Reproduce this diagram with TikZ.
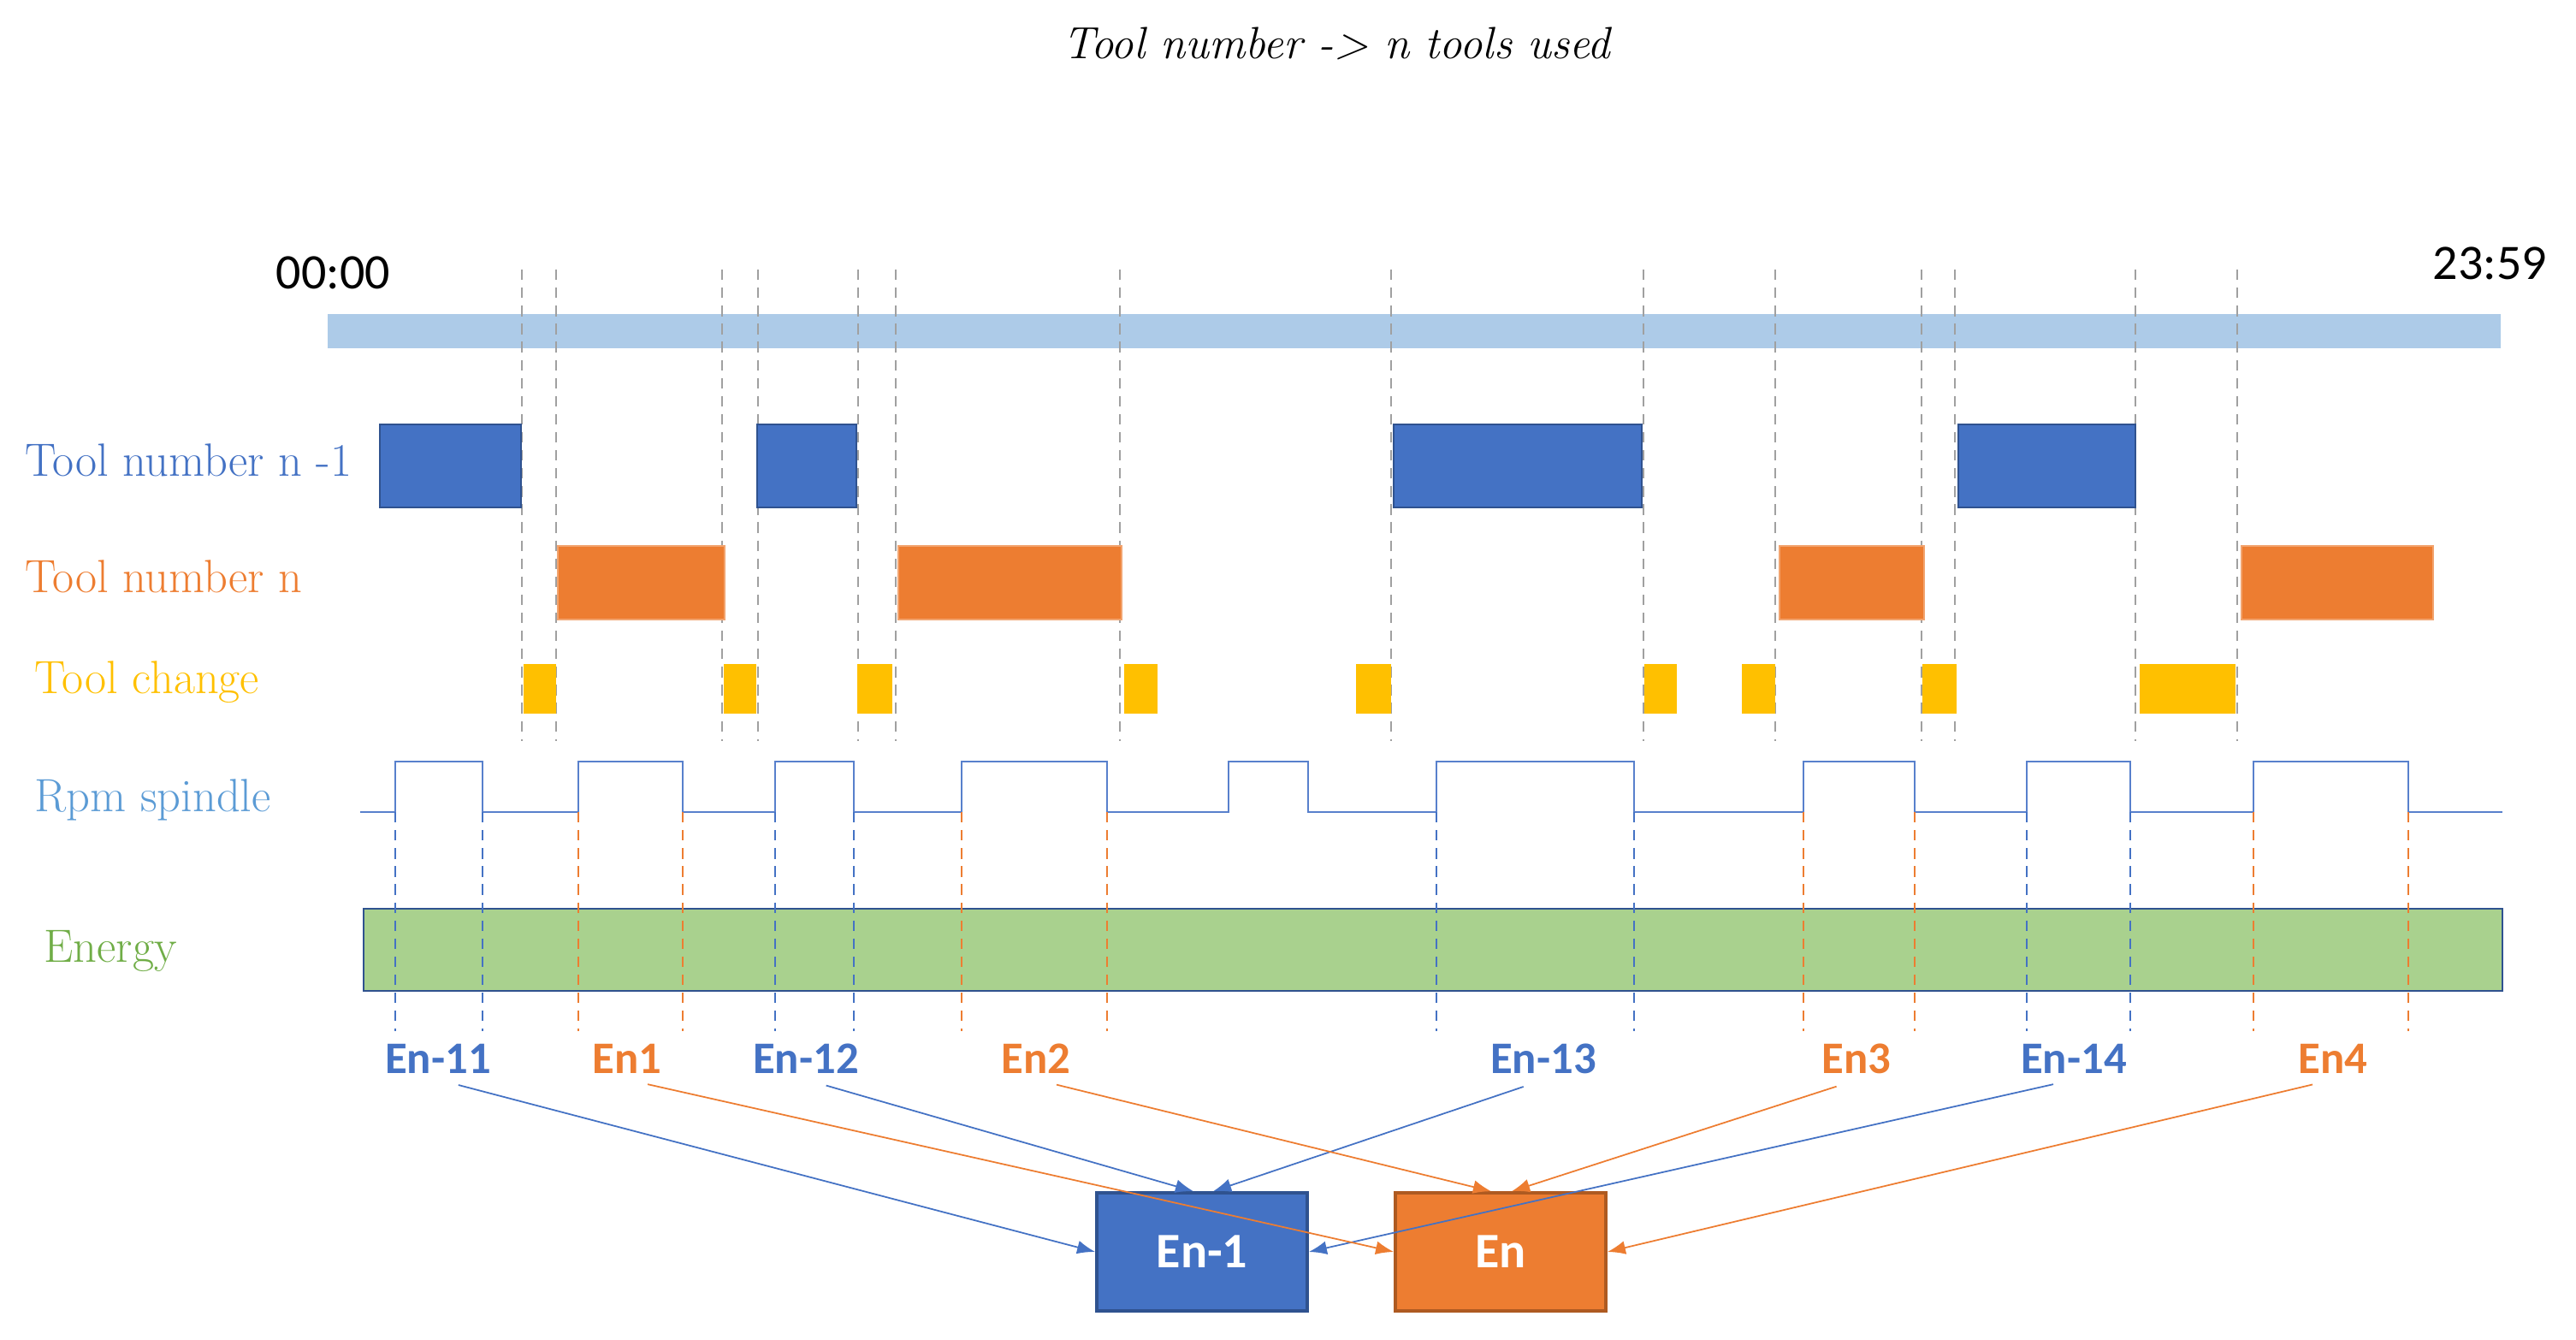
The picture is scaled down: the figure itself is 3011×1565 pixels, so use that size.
\documentclass[tikz,border=0pt]{standalone}
\usepackage{fontspec}
\newfontfamily\calfont{Carlito}
\usetikzlibrary{arrows.meta}
\definecolor{toolblue}{RGB}{68,114,196}
\definecolor{toolblueline}{RGB}{47,82,143}
\definecolor{toolorange}{RGB}{237,125,49}
\definecolor{toolorangeline}{RGB}{174,90,33}
\definecolor{changeyellow}{RGB}{255,192,0}
\definecolor{timebar}{RGB}{173,203,232}
\definecolor{spindleblue}{RGB}{91,155,213}
\definecolor{spindleline}{RGB}{88,128,204}
\definecolor{energyfill}{RGB}{169,209,142}
\definecolor{energygreen}{RGB}{112,173,71}
\definecolor{guidegrey}{RGB}{160,160,160}
\tikzstyle{prevbar}=[fill=toolblue,draw=toolblueline,line width=0.8pt]
\tikzstyle{curbar}=[fill=toolorange,draw=toolorange!70!white,line width=0.4pt]
\tikzstyle{changebar}=[fill=changeyellow]
\tikzstyle{guide}=[draw=guidegrey,line width=0.6pt,dash pattern=on 3.5pt off 2.5pt]
\tikzstyle{enguide}=[line width=0.6pt,dash pattern=on 3.5pt off 2.5pt]
\tikzstyle{spindle}=[draw=spindleline,line width=0.7pt]
\tikzstyle{rowlabel}=[anchor=base west,inner sep=0pt,font=\fontsize{15.5}{18}\selectfont]
\tikzstyle{timelabel}=[anchor=base west,inner sep=0pt,font=\calfont\fontsize{16.5}{19}\selectfont]
\tikzstyle{enlabel}=[anchor=base,inner sep=2pt,font=\calfont\bfseries\fontsize{15}{18}\selectfont]
\tikzstyle{enbox}=[rectangle,minimum width=2.46cm,minimum height=1.38cm,inner sep=0pt,line width=1pt,text=white,font=\calfont\bfseries\fontsize{16.5}{19}\selectfont]
\tikzstyle{edge}=[draw,line width=0.5pt,-{Latex[length=6pt,width=4.5pt]},shorten <=7pt]

\begin{document}
\begin{tikzpicture}[x=0.01cm,y=-0.01cm]
    \useasboundingbox (0,0) rectangle (3011,1565);
    % Title and the day
    \node[anchor=base,inner sep=0pt,font=\itshape\fontsize{15}{18}\selectfont] (title) at (1562,68) {Tool number -> n tools used};
    \node[timelabel] (tstart) at (322,337) {00:00};
    \node[timelabel] (tend) at (2843,326) {23:59};
    \fill[timebar] (383,367) rectangle (2923,407);

    % Grey guides at every tool change
    \foreach \x in {610,650,844,886,1003,1047,1309,1626,1921,2075,2246,2285,2496,2615}
        \draw[guide] (\x,315) -- (\x,866);

    % Row labels
    \foreach \pos/\name/\c/\txt in {{(29,556)/lprev/toolblue/{Tool number n -1}}, {(29,692)/lcur/toolorange/{Tool number n}}, {(40,810)/lchange/changeyellow/{Tool change}}, {(40,948)/lrpm/spindleblue/{Rpm spindle}}, {(51,1124)/lenergy/energygreen/{Energy}}}
        \node[rowlabel,text=\c] (\name) at \pos {\txt};

    % First we draw the tool bars
    \foreach \xa/\xb in {444/609, 885/1001, 1629/1919, 2289/2496}
        \draw[prevbar] (\xa,496) rectangle (\xb,593);
    \foreach \xa/\xb in {652/847, 1050/1311, 2080/2249, 2620/2844}
        \draw[curbar] (\xa,638) rectangle (\xb,724);
    \foreach \xa/\xb in {612/650, 846/884, 1002/1043, 1314/1353, 1585/1626, 1922/1960, 2036/2075, 2247/2287, 2501/2613}
        \fill[changebar] (\xa,776) rectangle (\xb,834);

    % Spindle signal
    \draw[spindle] (421,949) foreach \a/\b in {462/564, 676/798, 906/998, 1124/1294, 1436/1529, 1679/1910, 2108/2238, 2369/2490, 2634/2815}
        { -- (\a,949) -- (\a,890) -- (\b,890) -- (\b,949) } -- (2925,949);

    % Energy
    \draw[fill=energyfill,draw=toolblueline,line width=0.8pt] (425,1062) rectangle (2925,1158);
    \foreach \a/\b/\c in {462/564/toolblue, 676/798/toolorange, 906/998/toolblue, 1124/1294/toolorange, 1679/1910/toolblue, 2108/2238/toolorange, 2369/2490/toolblue, 2634/2815/toolorange}
        \draw[enguide,draw=\c] (\a,949) -- (\a,1205) (\b,949) -- (\b,1205);

    % Energy per interval
    \foreach \x/\name/\txt/\c in {512/e11/En-11/toolblue, 733/en1/En1/toolorange, 942/e12/En-12/toolblue, 1211/en2/En2/toolorange, 1804/e13/En-13/toolblue, 2170/en3/En3/toolorange, 2424/e14/En-14/toolblue, 2727/en4/En4/toolorange}
        \node[enlabel,text=\c] (\name) at (\x,1254) {\txt};

    \node[enbox,fill=toolblue,draw=toolblueline] (Eprev) at (1405,1463) {En-1};
    \node[enbox,fill=toolorange,draw=toolorangeline] (Ecur) at (1754,1463) {En};

    % Connect intervals with the totals
    \path[edge,draw=toolblue] (e11.south) -- (Eprev.west);
    \path[edge,draw=toolblue] (e12.south) -- ([xshift=-0.1cm]Eprev.north);
    \path[edge,draw=toolblue] (e13.south) -- ([xshift=0.13cm]Eprev.north);
    \path[edge,draw=toolblue] (e14.south) -- (Eprev.east);
    \path[edge,draw=toolorange] (en1.south) -- (Ecur.west);
    \path[edge,draw=toolorange] (en2.south) -- ([xshift=-0.11cm]Ecur.north);
    \path[edge,draw=toolorange] (en3.south) -- ([xshift=0.13cm]Ecur.north);
    \path[edge,draw=toolorange] (en4.south) -- (Ecur.east);
\end{tikzpicture}
\end{document}
